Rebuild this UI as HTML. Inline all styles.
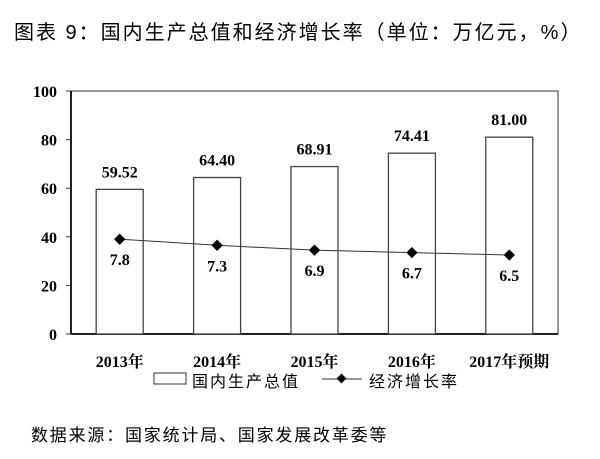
<!DOCTYPE html>
<html><head><meta charset="utf-8"><style>
body{margin:0;background:#fff;width:600px;height:459px;overflow:hidden}
svg{display:block}
text{font-family:"Liberation Serif","Noto Serif CJK SC",serif}
.cj{font-family:"Liberation Sans","Noto Sans CJK SC",sans-serif}
</style></head><body>
<svg id="chart" width="600" height="459">
<text class="cj" x="14" y="39" font-size="20" letter-spacing="2" fill="#000">图表 9：国内生产总值和经济增长率（单位：万亿元，%）</text>
<text class="cj" x="31" y="441" font-size="17" letter-spacing="1.8" fill="#000">数据来源：国家统计局、国家发展改革委等</text>
<g id="plot"></g>
</svg>
<script>
const categories=["2013年","2014年","2015年","2016年","2017年预期"];
const gdpValues=[59.52,64.40,68.91,74.41,81.00];
const gdpLabels=["59.52","64.40","68.91","74.41","81.00"];
const growthValues=[7.8,7.3,6.9,6.7,6.5];
const growthLabels=["7.8","7.3","6.9","6.7","6.5"];
const yTicks=[0,20,40,60,80,100];
const growthScale=5;

const NS="http://www.w3.org/2000/svg";
const g=document.getElementById("plot");
const L=71,R=558,T=91,B=334,yMax=100;
const bw=(R-L)/categories.length;
const y=v=>B-(v/yMax)*(B-T);
const xc=i=>L+bw*(i+0.5);
function mk(tag,attrs,txt){const e=document.createElementNS(NS,tag);for(const k in attrs)e.setAttribute(k,attrs[k]);if(txt!=null)e.textContent=txt;g.appendChild(e);return e;}

let e=mk("rect",{x:L,y:T,width:R-L,height:B-T,fill:"none",stroke:"#333","stroke-width":1});


yTicks.forEach(t=>{
  let tk=mk("line",{x1:L-5,x2:L,y1:y(t),y2:y(t),stroke:"#333"});
  
  
  let lb=mk("text",{x:L-14,y:y(t)+6,"text-anchor":"end","font-size":16,"font-weight":"bold"},t);
  
  
});
e=mk("line",{x1:L,x2:R,y1:B,y2:B,stroke:"#222","stroke-width":2});


e=mk("line",{x1:L,x2:L,y1:T,y2:B,stroke:"#222","stroke-width":2});



const barW=47;
categories.forEach((c,i)=>{
  let b=mk("rect",{x:xc(i)-barW/2,y:y(gdpValues[i]),width:barW,height:B-y(gdpValues[i]),fill:"#fff",stroke:"#444","stroke-width":1.3});
  
  
  let t=mk("text",{x:xc(i),y:y(gdpValues[i])-12,"text-anchor":"middle","font-size":16,"font-weight":"bold"},gdpLabels[i]);
  
  
  let cl=mk("text",{x:xc(i),y:367,"text-anchor":"middle","font-size":16,"font-weight":"bold"},c);
  
  
});
const pts=growthValues.map((v,i)=>[xc(i),y(v*growthScale)]);
let ln=mk("polyline",{points:pts.map(p=>p.join(",")).join(" "),fill:"none",stroke:"#333","stroke-width":1});


pts.forEach((p,i)=>{
  let m=mk("rect",{x:p[0]-4,y:p[1]-4,width:8,height:8,fill:"#000",transform:`rotate(45 ${p[0]} ${p[1]})`});
  
  
  let t=mk("text",{x:p[0],y:p[1]+26,"text-anchor":"middle","font-size":16,"font-weight":"bold"},growthLabels[i]);
  
  
});
e=mk("rect",{x:154,y:373,width:32,height:11,fill:"#fff",stroke:"#333"});


e=mk("text",{x:192,y:387,"font-size":16,"letter-spacing":2,class:"cj"},"国内生产总值");


e=mk("line",{x1:322,x2:362,y1:379,y2:379,stroke:"#333"});


e=mk("rect",{x:338,y:375,width:7,height:7,fill:"#000",transform:"rotate(45 341.5 378.5)"});


e=mk("text",{x:369,y:387,"font-size":16,"letter-spacing":2,class:"cj"},"经济增长率");


</script>
</body></html>
